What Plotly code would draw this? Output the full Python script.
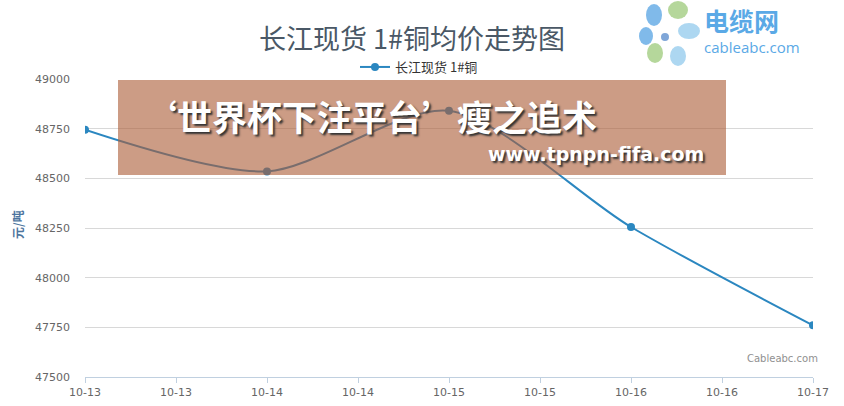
import plotly.graph_objects as go

# ---- data ----
dates = ["2023-10-13", "2023-10-14", "2023-10-15", "2023-10-16", "2023-10-17"]
prices = [48745, 48535, 48840, 48255, 47760]
series_name = "长江现货 1#铜"
chart_title = "长江现货 1#铜均价走势图"
y_title = "元/吨"
y_ticks = [47500, 47750, 48000, 48250, 48500, 48750, 49000]

W, H = 844, 406
L, R, T, B = 85, 31, 79, 29
PW, PH = W - L - R, H - T - B


def px(x):
    return (x - L) / PW


def py(y):
    return (H - B - y) / PH


FONT = "DejaVu Sans, Verdana, sans-serif"
CJK = "Noto Sans CJK SC, sans-serif"
LINE = "#2b87c0"

fig = go.Figure()
fig.add_trace(go.Scatter(
    x=dates, y=prices, name=series_name, mode="lines+markers",
    line=dict(color=LINE, width=2, shape="spline", smoothing=0.8),
    marker=dict(color=LINE, size=8),
))

fig.update_layout(
    width=W, height=H,
    margin=dict(l=L, r=R, t=T, b=B, autoexpand=False),
    paper_bgcolor="white", plot_bgcolor="white",
    showlegend=True,
    legend=dict(orientation="h", x=px(419), xanchor="center", y=py(67), yanchor="middle",
                font=dict(family=CJK, size=13, color="#333333"),
                bgcolor="rgba(0,0,0,0)", itemwidth=30),
    xaxis=dict(
        type="date", range=["2023-10-13", "2023-10-17"], automargin=False,
        tick0="2023-10-13", dtick=43200000, tickformat="%m-%d",
        showgrid=False, showline=True, linecolor="#c0d0e0", linewidth=1,
        ticks="outside", ticklen=5, tickcolor="#c0d0e0",
        tickfont=dict(family=FONT, size=11, color="#666666"),
        zeroline=False, fixedrange=True,
    ),
    yaxis=dict(
        range=[47500, 49000], tickvals=y_ticks, tickformat="d", automargin=False,
        showgrid=True, gridcolor="#d8d8d8", gridwidth=1,
        showline=False, zeroline=False, ticks="", ticklabelstandoff=14,
        tickfont=dict(family=FONT, size=11, color="#666666"),
        fixedrange=True,
    ),
)

ann = []
ann.append(dict(text=chart_title, x=px(412), y=py(38), xref="paper", yref="paper",
                showarrow=False, xanchor="center", yanchor="middle",
                font=dict(family=CJK, size=27, color="#4a5866")))
ann.append(dict(text=y_title, x=px(17), y=py(225), xref="paper", yref="paper",
                showarrow=False, textangle=-90, xanchor="center", yanchor="middle",
                font=dict(family=CJK, size=12, color="#4d759e", weight="bold")))
ann.append(dict(text="Cableabc.com", x=px(820), y=py(358), xref="paper", yref="paper",
                showarrow=False, xanchor="right", yanchor="middle",
                font=dict(family=FONT, size=10, color="#909090")))

# overlay banner
shapes = [dict(type="rect", xref="paper", yref="paper", layer="above",
               x0=px(118), x1=px(726), y0=py(175), y1=py(80),
               fillcolor="rgba(171,93,55,0.61)", line=dict(width=0))]
ann.append(dict(text="‘世界杯下注平台’瘦之追术", x=px(140), y=py(115), xref="paper", yref="paper",
                showarrow=False, xanchor="left", yanchor="middle",
                font=dict(family=CJK, size=35, color="white", weight="bold",
                          shadow="2px 2px 2px #333333")))
ann.append(dict(text="www.tpnpn-fifa.com", x=px(706), y=py(154), xref="paper", yref="paper",
                showarrow=False, xanchor="right", yanchor="middle",
                font=dict(family=FONT, size=19, color="white", weight="bold",
                          shadow="2px 2px 2px #333333")))

# logo
petals = [
    (654, 15, 8, 11, "#6aaee6"),
    (678, 10, 10, 9, "#a8d08a"),
    (689, 31, 11, 8, "#9fd0ee"),
    (655, 53, 8, 10, "#a8d08a"),
    (678, 56, 8, 10, "#9fd0ee"),
    (646, 36, 7, 9, "#6aaee6"),
]
for cx, cy, rx, ry, col in petals:
    shapes.append(dict(type="circle", xref="paper", yref="paper", layer="above",
                       x0=px(cx - rx), x1=px(cx + rx), y0=py(cy + ry), y1=py(cy - ry),
                       fillcolor=col, line=dict(width=0), opacity=0.85))
shapes.append(dict(type="circle", xref="paper", yref="paper", layer="above",
                   x0=px(660), x1=px(670), y0=py(42), y1=py(32),
                   fillcolor="#7fa6d8", line=dict(color="white", width=2)))
ann.append(dict(text="电缆网", x=px(702), y=py(20), xref="paper", yref="paper",
                showarrow=False, xanchor="left", yanchor="middle",
                font=dict(family=CJK, size=25, color="#5aa9e6", weight="bold")))
ann.append(dict(text="cableabc.com", x=px(702), y=py(47), xref="paper", yref="paper",
                showarrow=False, xanchor="left", yanchor="middle",
                font=dict(family="Open Sans, sans-serif", size=15, color="#5aa9e6")))

fig.update_layout(annotations=ann, shapes=shapes)
fig.write_html("out.html", config={"displayModeBar": False},
               post_script="document.body.style.margin='0';")
